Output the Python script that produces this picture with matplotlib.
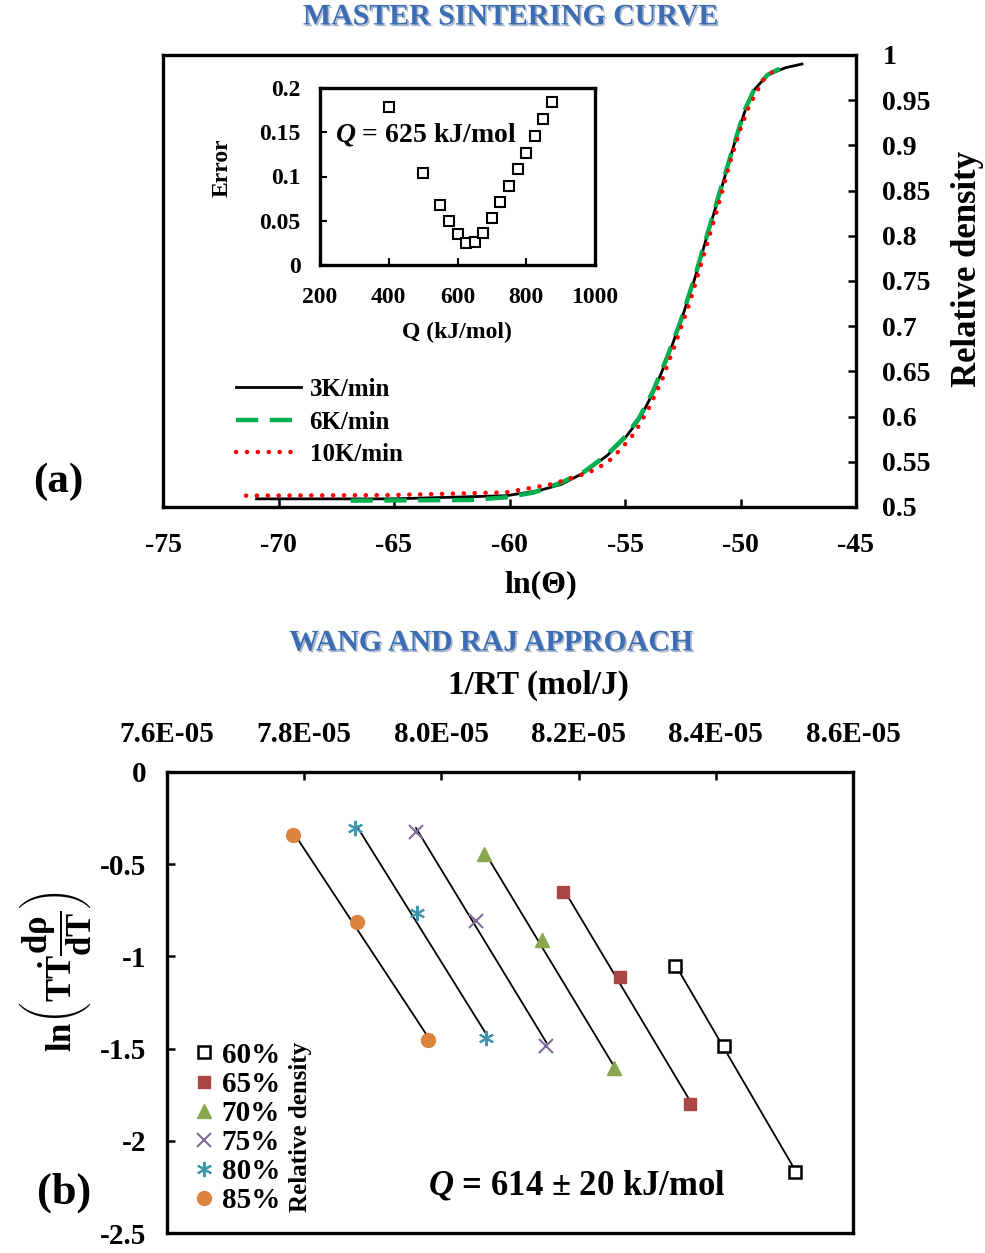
import numpy as np
import matplotlib
matplotlib.use('Agg')
import matplotlib.pyplot as plt
import matplotlib.patheffects as pe

plt.rcParams['font.family'] = ['Liberation Serif', 'DejaVu Serif']
plt.rcParams['font.weight'] = 'bold'
plt.rcParams['axes.labelweight'] = 'bold'
plt.rcParams['axes.unicode_minus'] = False
plt.rcParams['mathtext.fontset'] = 'custom'
plt.rcParams['mathtext.rm'] = 'Liberation Serif:bold'
plt.rcParams['mathtext.bf'] = 'Liberation Serif:bold'
plt.rcParams['mathtext.it'] = 'Liberation Serif:italic:bold'

# ---- (a) master sintering curve ----
x_3k = [-70.95, -65.1, -60.14, -58.75, -57.76, -56.77, -55.77, -54.98, -54.38, -53.79, -53.19,
        -52.60, -52.00, -51.41, -50.81, -50.22, -49.82, -49.42, -48.83, -48.04, -47.34]
y_3k = [0.509, 0.509, 0.5125, 0.518, 0.525, 0.538, 0.557, 0.577, 0.597, 0.626, 0.663,
        0.704, 0.751, 0.803, 0.854, 0.906, 0.937, 0.961, 0.978, 0.986, 0.990]

x_6k = [-66.88, -61.73, -60.14, -58.95, -57.76, -56.77, -55.77, -54.98, -54.38, -53.79, -53.19,
        -52.60, -52.00, -51.41, -50.81, -50.22, -49.82, -49.42, -48.83, -48.14]
y_6k = [0.507, 0.5077, 0.5107, 0.516, 0.527, 0.539, 0.558, 0.578, 0.599, 0.628, 0.665,
        0.705, 0.753, 0.804, 0.856, 0.906, 0.939, 0.961, 0.978, 0.987]

x_10k = [-71.41, -65.10, -60.14, -58.15, -56.57, -55.77, -55.18, -54.58, -53.99, -53.39,
         -52.80, -52.20, -51.61, -51.01, -50.42, -50.02, -49.62, -49.03, -48.59]
y_10k = [0.5125, 0.5132, 0.5162, 0.5254, 0.538, 0.549, 0.564, 0.582, 0.608, 0.641,
         0.682, 0.726, 0.777, 0.829, 0.884, 0.917, 0.944, 0.972, 0.982]

# inset: error vs activation energy
q_vals = [400, 500, 550, 575, 600, 625, 650, 675, 700, 725, 750, 775, 800, 825, 850, 875]
err_vals = [0.179, 0.1045, 0.0675, 0.050, 0.0347, 0.0245, 0.0257, 0.0362, 0.0532, 0.0709,
            0.0894, 0.108, 0.127, 0.146, 0.165, 0.184]

# ---- (b) Wang and Raj ----
densities = ['60%', '65%', '70%', '75%', '80%', '85%']
inv_rt = {
    '60%': [8.341e-5, 8.412e-5, 8.516e-5],
    '65%': [8.177e-5, 8.260e-5, 8.363e-5],
    '70%': [8.062e-5, 8.146e-5, 8.251e-5],
    '75%': [7.963e-5, 8.051e-5, 8.153e-5],
    '80%': [7.874e-5, 7.964e-5, 8.065e-5],
    '85%': [7.783e-5, 7.877e-5, 7.980e-5],
}
ln_rate = {
    '60%': [-1.053, -1.484, -2.167],
    '65%': [-0.649, -1.110, -1.803],
    '70%': [-0.447, -0.911, -1.607],
    '75%': [-0.324, -0.806, -1.484],
    '80%': [-0.306, -0.763, -1.444],
    '85%': [-0.342, -0.812, -1.453],
}
styles = {
    '60%': dict(marker='s', mfc='white', mec='black', ms=9, mew=1.8),
    '65%': dict(marker='s', mfc='#AA4643', mec='#AA4643', ms=9),
    '70%': dict(marker='^', mfc='#89A54E', mec='#89A54E', ms=10),
    '75%': dict(marker='x', mfc='#80699B', mec='#80699B', ms=10, mew=1.5),
    '80%': dict(marker=(6, 2, 0), mfc='#3D96AE', mec='#3D96AE', ms=11, mew=1.5),
    '85%': dict(marker='o', mfc='#DB843D', mec='#DB843D', ms=10),
}

W, H = 985, 1253
fig = plt.figure(figsize=(9.85, 12.53), dpi=100)

def fbox(l, t, r, b):
    return [l / W, 1 - b / H, (r - l) / W, (b - t) / H]

# top panel
ax = fig.add_axes(fbox(163, 55, 856, 507))
ax.plot(x_3k, y_3k, color='black', lw=2.0, label='3K/min', zorder=3)
ax.plot(x_6k, y_6k, color='#00B050', lw=3.2, ls=(0, (5, 2.6)), label='6K/min', zorder=4)
ax.plot(x_10k, y_10k, color='#FF0000', lw=3.2, ls=(0, (0.05, 2.4)),
        dash_capstyle='round', label='10K/min', zorder=5)
ax.set_xlim(-75, -45)
ax.set_ylim(0.5, 1.0)
ax.set_xticks(np.arange(-75, -44, 5))
ax.set_yticks(np.arange(0.5, 1.001, 0.05))
ax.set_yticklabels(['0.5', '0.55', '0.6', '0.65', '0.7', '0.75', '0.8', '0.85', '0.9', '0.95', '1'])
ax.yaxis.tick_right()
ax.tick_params(direction='in', length=6, width=1.8, labelsize=20, pad=19)
ax.tick_params(axis='y', labelleft=False, left=False)
for s in ax.spines.values():
    s.set_linewidth(2.4)
ax.set_xlabel('ln(Θ)', fontsize=23)
ax.xaxis.label.set_va('center')
ax.xaxis.set_label_coords(0.545, -0.1726)
ax.yaxis.set_label_position('right')
ax.set_ylabel('Relative density', fontsize=25)
ax.yaxis.label.set_rotation(90)
ax.yaxis.label.set_va('center')
ax.yaxis.label.set_ha('center')
ax.yaxis.set_label_coords(1.1616, 0.5265)
ax.legend(loc='upper left', bbox_to_anchor=(0.105, 0.285), frameon=False, fontsize=18,
          handlelength=2.6, handletextpad=0.35, labelspacing=0.38, borderpad=0, borderaxespad=0)

# inset
axi = fig.add_axes(fbox(320, 88, 595, 265))
axi.plot(q_vals, err_vals, ls='none', marker='s', mfc='white', mec='black', ms=7, mew=1.5)
axi.set_xlim(200, 1000)
axi.set_ylim(0, 0.2)
axi.set_xticks([200, 400, 600, 800, 1000])
axi.set_yticks([0, 0.05, 0.1, 0.15, 0.2])
axi.set_yticklabels(['0', '0.05', '0.1', '0.15', '0.2'])
axi.tick_params(direction='in', length=5, width=1.5, labelsize=17)
axi.tick_params(axis='x', pad=16)
axi.tick_params(axis='y', pad=14)
for s in axi.spines.values():
    s.set_linewidth(2.4)
axi.set_xlabel('Q (kJ/mol)', fontsize=17)
axi.xaxis.label.set_va('center')
axi.xaxis.set_label_coords(0.498, -0.379)
axi.set_ylabel('Error', fontsize=17)
axi.yaxis.label.set_va('center')
axi.yaxis.set_label_coords(-0.356, 0.548)
axi.text(0.055, 0.74, r'$Q$ = 625 kJ/mol', transform=axi.transAxes, fontsize=20,
         ha='left', va='center')

# bottom panel
bx = fig.add_axes(fbox(167, 772, 853, 1233))
for d in densities:
    xs = np.array(inv_rt[d])
    ys = np.array(ln_rate[d])
    k, c = np.polyfit(xs, ys, 1)
    bx.plot([xs.min(), xs.max()], [k * xs.min() + c, k * xs.max() + c], color='black', lw=1.3, zorder=2)
    bx.plot(xs, ys, ls='none', label=d, zorder=3, **styles[d])
bx.set_xlim(7.6e-5, 8.6e-5)
bx.set_ylim(-2.5, 0)
bx.set_xticks(np.arange(7.6e-5, 8.61e-5, 0.2e-5))
bx.set_xticklabels(['7.6E-05', '7.8E-05', '8.0E-05', '8.2E-05', '8.4E-05', '8.6E-05'])
bx.set_yticks([0, -0.5, -1, -1.5, -2, -2.5])
bx.set_yticklabels(['0', '-0.5', '-1', '-1.5', '-2', '-2.5'])
bx.xaxis.tick_top()
bx.tick_params(direction='in', length=6, width=1.8, labelsize=21)
bx.tick_params(axis='x', pad=17)
bx.tick_params(axis='y', pad=15)
for s in bx.spines.values():
    s.set_linewidth(2.4)
bx.xaxis.set_label_position('top')
bx.set_xlabel('1/RT (mol/J)', fontsize=24)
bx.xaxis.label.set_va('center')
bx.xaxis.set_label_coords(0.541, 1.1887)
bx.set_ylabel(r'$\mathrm{ln}\left(\mathrm{T\dot{T}}\dfrac{\mathrm{dρ}}{\mathrm{dT}}\right)$',
              fontsize=25)
bx.yaxis.label.set_va('center')
bx.yaxis.set_label_coords(-0.163, 0.566)
bx.legend(loc='upper left', bbox_to_anchor=(0.035, 0.415), frameon=False, fontsize=21,
          handlelength=0.9, handletextpad=0.15, labelspacing=0.07, borderpad=0, borderaxespad=0)
bx.text(0.194, 0.23, 'Relative density', transform=bx.transAxes, fontsize=18,
        rotation=90, ha='center', va='center')
bx.text(0.380, 0.104, r'$Q$ = 614 ± 20 kJ/mol', transform=bx.transAxes, fontsize=25,
        ha='left', va='center')

# titles and panel labels
shadow = [pe.withSimplePatchShadow(offset=(1.2, -1.2), shadow_rgbFace='#9AA8BC', alpha=0.8)]
fig.text(511 / W, 1 - 17 / H, 'MASTER SINTERING CURVE', fontsize=21.5, color='#3C6DB4',
         ha='center', va='center', path_effects=shadow)
fig.text(492 / W, 1 - 643 / H, 'WANG AND RAJ APPROACH', fontsize=21.5, color='#3C6DB4',
         ha='center', va='center', path_effects=shadow)
fig.text(58 / W, 1 - 482 / H, '(a)', fontsize=31, ha='center', va='center')
fig.text(64 / W, 1 - 1193 / H, '(b)', fontsize=32, ha='center', va='center')

fig.savefig('out.png', dpi=100)
